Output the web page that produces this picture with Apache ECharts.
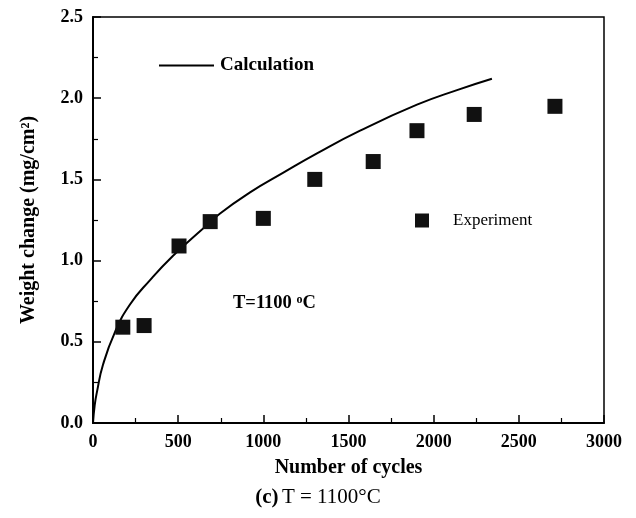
<!DOCTYPE html>
<html>
<head>
<meta charset="utf-8">
<script src="https://cdn.jsdelivr.net/npm/echarts@6/dist/echarts.min.js"></script>
<style>
  html, body { margin: 0; padding: 0; background: #fff; }
  #chart { width: 636px; height: 518px; }
</style>
</head>
<body>
<div id="chart"></div>
<script>
// values
const calcCycles = [0, 10, 23, 59, 129, 217, 335, 470, 628, 746, 922, 1115, 1315, 1568, 1902, 2137, 2342];
const calcWeight = [0, 0.11, 0.19, 0.36, 0.56, 0.73, 0.88, 1.03, 1.18, 1.29, 1.42, 1.54, 1.66, 1.80, 1.96, 2.05, 2.12];
const expCycles = [175, 300, 505, 688, 1000, 1302, 1645, 1902, 2238, 2712];
const expWeight = [0.59, 0.60, 1.09, 1.24, 1.26, 1.50, 1.61, 1.80, 1.90, 1.95];

const FONT = 'Liberation Serif';
const chart = echarts.init(document.getElementById('chart'), null, { renderer: 'canvas' });

const axisCommon = {
    axisLine: { show: true, onZero: false, lineStyle: { color: '#000', width: 2 } },
    axisTick: { show: true, inside: true, length: 8, lineStyle: { color: '#000', width: 1.5 } },
    minorTick: { show: true, splitNumber: 2, length: 5, lineStyle: { color: '#000', width: 1.2 } },
    splitLine: { show: false },
    axisLabel: { color: '#000', fontFamily: FONT, fontWeight: 'bold', fontSize: 18, margin: 10 },
    nameTextStyle: { color: '#000', fontFamily: FONT, fontWeight: 'bold', fontSize: 20 },
};

const option = {
    animation: false,
    backgroundColor: '#fff',
    grid: {
        left: 93, right: 32, top: 17, bottom: 95,
        show: true, borderColor: '#000', borderWidth: 1.5,
    },
    legend: [
        {
            data: [{ name: 'Calculation', icon: 'rect' }],
            left: 154, top: 51,
            itemWidth: 55, itemHeight: 2,
            textStyle: { color: '#000', fontFamily: FONT, fontWeight: 'bold', fontSize: 19, padding: [0, 0, 0, 1] },
        },
        {
            data: [{ name: 'Experiment', icon: 'rect' }],
            left: 410, top: 207,
            itemWidth: 14, itemHeight: 14,
            textStyle: { color: '#000', fontFamily: FONT, fontSize: 17, padding: [0, 0, 0, 19] },
        },
    ],
    xAxis: {
        ...axisCommon,
        type: 'value',
        min: 0, max: 3000, interval: 500,
        name: 'Number of cycles',
        nameLocation: 'middle',
        nameGap: 35,
        axisLabel: { ...axisCommon.axisLabel, formatter: (v) => String(v) },
    },
    yAxis: {
        ...axisCommon,
        type: 'value',
        min: 0, max: 2.5, interval: 0.5,
        name: 'Weight change (mg/cm²)',
        nameLocation: 'middle',
        nameGap: 54,
        axisLabel: { ...axisCommon.axisLabel, formatter: (v) => v.toFixed(1) },
    },
    series: [
        {
            name: 'Calculation',
            type: 'line',
            data: calcCycles.map((c, i) => [c, calcWeight[i]]),
            smooth: 0.5,
            symbol: 'none',
            lineStyle: { color: '#000', width: 2 },
            itemStyle: { color: '#000' },
            z: 3,
        },
        {
            name: 'Experiment',
            type: 'scatter',
            data: expCycles.map((c, i) => [c, expWeight[i]]),
            symbol: 'rect',
            symbolSize: 15,
            itemStyle: { color: '#111', opacity: 1 },
            z: 4,
        },
    ],
    graphic: [
        {
            type: 'text',
            left: 233, top: 294,
            style: {
                text: '{b|T=1100 }{s|o}{b|C}',
                rich: {
                    b: { fontFamily: FONT, fontWeight: 'bold', fontSize: 18.5, fill: '#000', verticalAlign: 'bottom' },
                    s: { fontFamily: FONT, fontWeight: 'bold', fontSize: 12, fill: '#000', verticalAlign: 'top' },
                },
            },
        },
        {
            type: 'text',
            left: 'center', top: 487,
            style: {
                text: '{b|(c)} {n|T = 1100°C}',
                rich: {
                    b: { fontFamily: FONT, fontWeight: 'bold', fontSize: 21, fill: '#000' },
                    n: { fontFamily: FONT, fontSize: 21, fill: '#000' },
                },
            },
        },
    ],
};

chart.setOption(option);
</script>
</body>
</html>
